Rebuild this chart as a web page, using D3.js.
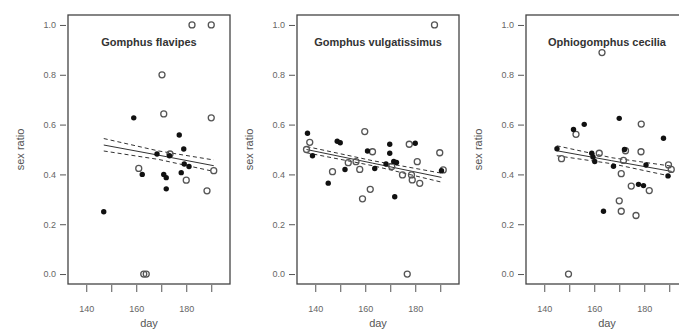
<!DOCTYPE html>
<html>
<head>
<meta charset="utf-8">
<script src="https://cdn.jsdelivr.net/npm/d3@7"></script>
<style>
  body { margin: 0; background: #fff; }
  svg { display: block; font-family: "Liberation Sans", Arial, sans-serif; }
</style>
</head>
<body>
<div id="chart"></div>
<script>
// Species shown in the three panels
const species = ["Gomphus flavipes", "Gomphus vulgatissimus", "Ophiogomphus cecilia"];

// Filled points [day, sex ratio]
const filled1 = [[147, 0.25], [159, 0.627], [162.4, 0.40], [168.3, 0.482], [173.3, 0.475], [171, 0.40],
  [172, 0.387], [172, 0.342], [177.2, 0.558], [178, 0.407], [179, 0.502], [179.2, 0.442], [181.1, 0.432]];
const filled2 = [[136.9, 0.565], [138.9, 0.475], [145.2, 0.365], [148.8, 0.533], [150, 0.527], [151.9, 0.42],
  [160.9, 0.494], [163.8, 0.424], [168.3, 0.442], [169.8, 0.521], [169.8, 0.485], [171.4, 0.452],
  [172.5, 0.448], [171.8, 0.31], [180, 0.525], [190.5, 0.415]];
const filled3 = [[145.1, 0.503], [151.7, 0.58], [156, 0.601], [159, 0.485], [159.5, 0.47], [160.2, 0.452],
  [163.7, 0.252], [167.7, 0.433], [170, 0.625], [172.1, 0.50], [177.7, 0.36], [179.7, 0.355],
  [180.7, 0.438], [187.7, 0.545], [189.5, 0.394]];

// Open points [day, sex ratio]
const open1 = [[161, 0.424], [171, 0.643], [170.3, 0.80], [173.5, 0.482], [180, 0.377], [182.3, 1.0],
  [190, 1.0], [190, 0.627], [191, 0.415], [188.3, 0.334], [163, 0.0], [164, 0.0]];
const open2 = [[136.5, 0.50], [137.8, 0.529], [146.9, 0.411], [153.2, 0.447], [156.3, 0.451], [157.8, 0.42],
  [158.9, 0.302], [159.8, 0.572], [162, 0.34], [162.9, 0.491], [170.6, 0.432], [174.9, 0.398],
  [177.6, 0.521], [178.5, 0.398], [178.8, 0.378], [180.8, 0.451], [181.8, 0.364], [187.7, 1.0],
  [176.8, 0.0], [189.8, 0.487], [191.2, 0.418]];
const open3 = [[146.9, 0.463], [149.7, 0.0], [152.7, 0.561], [162, 0.485], [163.1, 0.889], [172.5, 0.495],
  [171.7, 0.456], [170.8, 0.403], [170, 0.294], [170.8, 0.252], [174.8, 0.353], [176.7, 0.235],
  [178.8, 0.602], [178.7, 0.491], [182, 0.335], [189.7, 0.438], [190.8, 0.42]];

// Regression fit and confidence band (start, middle, end)
const fitDays = [[147, 169, 191], [136.5, 163, 190.5], [145, 167, 191]];
const fitMid = [[0.518, 0.477, 0.435], [0.50, 0.445, 0.388], [0.495, 0.455, 0.412]];
const fitUpper = [[0.544, 0.494, 0.458], [0.512, 0.455, 0.405], [0.515, 0.467, 0.433]];
const fitLower = [[0.494, 0.460, 0.412], [0.487, 0.435, 0.369], [0.475, 0.443, 0.392]];

// Axis ticks
const xTicks = [140, 150, 160, 170, 180, 190];
const xLabels = [140, 160, 180];
const yTicks = [0, 0.2, 0.4, 0.6, 0.8, 1.0];

const filled = [filled1, filled2, filled3];
const opened = [open1, open2, open3];

const width = 679, height = 329;
const panelStep = 229;
const box = { left: 68, right: 230, top: 15, bottom: 284 };

const svg = d3.select("#chart").append("svg")
  .attr("width", width)
  .attr("height", height);

species.forEach((name, i) => {
  const g = svg.append("g").attr("transform", `translate(${i * panelStep},0)`);

  const x = d3.scaleLinear().domain([132.7, 197.5]).range([box.left, box.right]);
  const y = d3.scaleLinear().domain([-0.04, 1.04]).range([box.bottom, box.top]);

  // Box
  g.append("rect")
    .attr("x", box.left).attr("y", box.top)
    .attr("width", box.right - box.left).attr("height", box.bottom - box.top)
    .attr("fill", "none").attr("stroke", "#444").attr("stroke-width", 1.3);

  // Y axis
  const yAxis = g.append("g")
    .attr("transform", `translate(${box.left - 2},0)`)
    .call(d3.axisLeft(y).tickValues(yTicks).tickFormat(d3.format(".1f")).tickSize(6).tickPadding(4));
  yAxis.select(".domain").remove();
  yAxis.selectAll("line").attr("stroke", "#555");
  yAxis.selectAll("text").attr("fill", "#666").style("font-size", "9px");

  // X axis
  const xAxis = g.append("g")
    .attr("transform", `translate(0,${box.bottom + 1})`)
    .call(d3.axisBottom(x).tickValues(xTicks)
      .tickFormat(d => xLabels.includes(d) ? d : "").tickSize(7).tickPadding(14));
  xAxis.select(".domain").remove();
  xAxis.selectAll("line").attr("stroke", "#555");
  xAxis.selectAll("text").attr("fill", "#666").style("font-size", "9px");

  // Axis titles
  g.append("text")
    .attr("x", (box.left + box.right) / 2)
    .attr("y", 327)
    .attr("text-anchor", "middle")
    .attr("fill", "#555")
    .style("font-size", "11px")
    .text("day");

  g.append("text")
    .attr("transform", `translate(24,${(box.top + box.bottom) / 2}) rotate(-90)`)
    .attr("text-anchor", "middle")
    .attr("fill", "#555")
    .style("font-size", "11px")
    .text("sex ratio");

  // Panel title
  g.append("text")
    .attr("x", (box.left + box.right) / 2)
    .attr("y", 46)
    .attr("text-anchor", "middle")
    .attr("fill", "#333")
    .style("font-size", "11px")
    .style("font-weight", "bold")
    .text(name);

  // Regression lines
  const line = d3.line().x(d => x(d[0])).y(d => y(d[1]));
  const mk = vals => fitDays[i].map((d, k) => [d, vals[k]]);

  g.append("path").attr("d", line(mk(fitMid[i])))
    .attr("fill", "none").attr("stroke", "#333").attr("stroke-width", 1);
  [fitUpper[i], fitLower[i]].forEach(vals => {
    g.append("path").attr("d", line(mk(vals)))
      .attr("fill", "none").attr("stroke", "#333").attr("stroke-width", 1)
      .attr("stroke-dasharray", "4,3");
  });

  // Open points
  g.selectAll("circle.open")
    .data(opened[i])
    .join("circle")
    .attr("class", "open")
    .attr("cx", d => x(d[0]))
    .attr("cy", d => y(d[1]))
    .attr("r", 3)
    .attr("fill", "none")
    .attr("stroke", "#555")
    .attr("stroke-width", 1.3);

  // Filled points
  g.selectAll("circle.filled")
    .data(filled[i])
    .join("circle")
    .attr("class", "filled")
    .attr("cx", d => x(d[0]))
    .attr("cy", d => y(d[1]))
    .attr("r", 2.7)
    .attr("fill", "#111");
});
</script>
</body>
</html>
